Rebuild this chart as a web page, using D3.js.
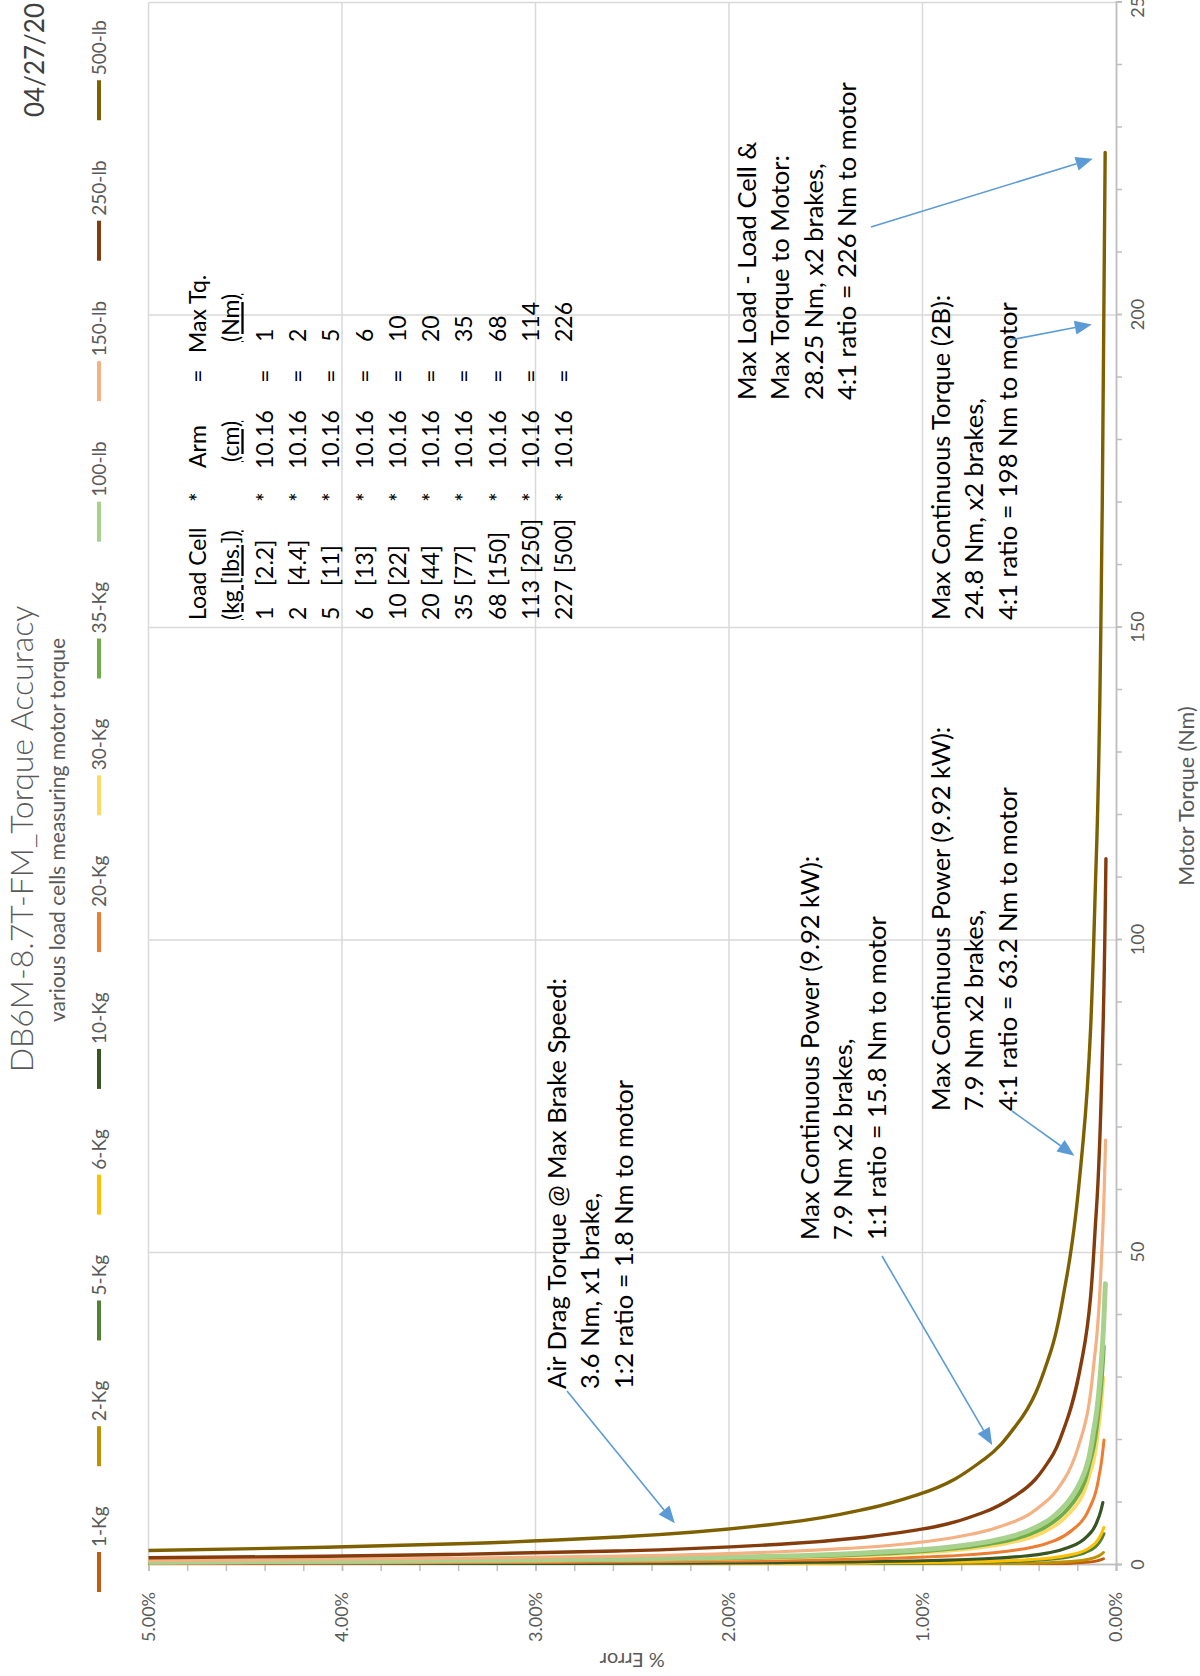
<!DOCTYPE html>
<html>
<head>
<meta charset="utf-8">
<script src="https://cdn.jsdelivr.net/npm/d3@7"></script>
<style>
  body { margin: 0; background: #fff; }
  svg { display: block; }
  text { font-family: Lato, "Open Sans", "DejaVu Sans", sans-serif; }
</style>
</head>
<body>
<svg id="chart" width="1200" height="1676"></svg>
<script>
// ---- series: load cell name, colour, torque points (Nm) and % error at each point ----
const lineNames  = ["1-Kg", "2-Kg", "5-Kg", "6-Kg", "10-Kg", "20-Kg", "30-Kg", "35-Kg", "100-lb", "150-lb", "250-lb", "500-lb"];
const lineColors = ["#C55A11", "#BF9000", "#548235", "#FFC000", "#375623", "#ED7D31", "#FFD966", "#70AD47", "#A9D18E", "#F4B183", "#843C0C", "#7F6000"];
const lineWidths = [3, 3, 3, 3, 3.2, 3, 3.5, 4, 5, 3.2, 3.4, 3.4];

const torque1Kg   = [0.01, 0.0125, 0.015, 0.02, 0.03, 0.04, 0.05, 0.075, 0.1, 0.15, 0.2, 0.3, 0.5, 0.75, 1];
const error1Kg    = [6.5, 5.2, 4.33, 3.25, 2.17, 1.63, 1.3, 0.87, 0.65, 0.43, 0.33, 0.22, 0.13, 0.087, 0.065];
const torque2Kg   = [0.02, 0.025, 0.03, 0.04, 0.06, 0.08, 0.1, 0.15, 0.2, 0.3, 0.4, 0.6, 1, 1.5, 2];
const error2Kg    = [6.5, 5.2, 4.33, 3.25, 2.17, 1.63, 1.3, 0.87, 0.65, 0.43, 0.33, 0.22, 0.13, 0.087, 0.065];
const torque5Kg   = [0.05, 0.0625, 0.075, 0.1, 0.15, 0.2, 0.25, 0.375, 0.5, 0.75, 1, 1.5, 2.5, 3.75, 5];
const error5Kg    = [6.2, 4.96, 4.13, 3.1, 2.07, 1.55, 1.24, 0.83, 0.62, 0.41, 0.31, 0.21, 0.124, 0.083, 0.062];
const torque6Kg   = [0.06, 0.075, 0.09, 0.12, 0.18, 0.24, 0.3, 0.45, 0.6, 0.9, 1.2, 1.8, 3, 4.5, 6];
const error6Kg    = [6.3, 5.04, 4.2, 3.15, 2.1, 1.58, 1.26, 0.84, 0.63, 0.42, 0.32, 0.21, 0.126, 0.084, 0.063];
const torque10Kg  = [0.1, 0.125, 0.15, 0.2, 0.3, 0.4, 0.5, 0.75, 1, 1.5, 2, 3, 5, 7.5, 10];
const error10Kg   = [6.8, 5.44, 4.53, 3.4, 2.27, 1.7, 1.36, 0.91, 0.68, 0.45, 0.34, 0.23, 0.136, 0.091, 0.068];
const torque20Kg  = [0.2, 0.25, 0.3, 0.4, 0.6, 0.8, 1, 1.5, 2, 3, 4, 6, 10, 15, 20];
const error20Kg   = [6.2, 4.96, 4.13, 3.1, 2.07, 1.55, 1.24, 0.83, 0.62, 0.41, 0.31, 0.21, 0.124, 0.083, 0.062];
const torque30Kg  = [0.3, 0.375, 0.45, 0.6, 0.9, 1.2, 1.5, 2.25, 3, 4.5, 6, 9, 15, 22.5, 30];
const error30Kg   = [6.5, 5.2, 4.33, 3.25, 2.17, 1.63, 1.3, 0.87, 0.65, 0.43, 0.33, 0.22, 0.13, 0.087, 0.065];
const torque35Kg  = [0.35, 0.44, 0.53, 0.7, 1.05, 1.4, 1.75, 2.63, 3.5, 5.25, 7, 10.5, 17.5, 26.25, 35];
const error35Kg   = [6.3, 5.04, 4.2, 3.15, 2.1, 1.58, 1.26, 0.84, 0.63, 0.42, 0.32, 0.21, 0.126, 0.084, 0.063];
const torque100lb = [0.45, 0.56, 0.68, 0.9, 1.35, 1.8, 2.25, 3.38, 4.5, 6.75, 9, 13.5, 22.5, 33.75, 45];
const error100lb  = [5.5, 4.4, 3.67, 2.75, 1.83, 1.38, 1.1, 0.73, 0.55, 0.37, 0.28, 0.18, 0.11, 0.073, 0.055];
const torque150lb = [0.68, 0.85, 1.02, 1.36, 2.04, 2.72, 3.4, 5.1, 6.8, 10.2, 13.6, 20.4, 34, 51, 68];
const error150lb  = [5.4, 4.32, 3.6, 2.7, 1.8, 1.35, 1.08, 0.72, 0.54, 0.36, 0.27, 0.18, 0.108, 0.072, 0.054];
const torque250lb = [1.13, 1.41, 1.7, 2.26, 3.39, 4.52, 5.65, 8.48, 11.3, 16.95, 22.6, 33.9, 56.5, 84.75, 113];
const error250lb  = [5.1, 4.08, 3.4, 2.55, 1.7, 1.28, 1.02, 0.68, 0.51, 0.34, 0.26, 0.17, 0.102, 0.068, 0.052];
const torque500lb = [2.26, 2.83, 3.39, 4.52, 6.78, 9.04, 11.3, 16.95, 22.6, 33.9, 45.2, 67.8, 113, 169.5, 226];
const error500lb  = [5.1, 4.08, 3.4, 2.55, 1.7, 1.28, 1.02, 0.68, 0.51, 0.34, 0.26, 0.17, 0.102, 0.071, 0.056];

const torqueSeries = [torque1Kg, torque2Kg, torque5Kg, torque6Kg, torque10Kg, torque20Kg, torque30Kg, torque35Kg, torque100lb, torque150lb, torque250lb, torque500lb];
const errorSeries  = [error1Kg, error2Kg, error5Kg, error6Kg, error10Kg, error20Kg, error30Kg, error35Kg, error100lb, error150lb, error250lb, error500lb];

// ---- axes ----
const torqueLabels = [0, 50, 100, 150, 200, 250];
const torqueMinor  = [0, 10, 20, 30, 40, 50, 60, 70, 80, 90, 100, 110, 120, 130, 140, 150, 160, 170, 180, 190, 200, 210, 220, 230, 240, 250];
const errorLabels  = [0, 1, 2, 3, 4, 5];
const errorMinor   = [0, 0.2, 0.4, 0.6, 0.8, 1, 1.2, 1.4, 1.6, 1.8, 2, 2.2, 2.4, 2.6, 2.8, 3, 3.2, 3.4, 3.6, 3.8, 4, 4.2, 4.4, 4.6, 4.8, 5];

// ---- text ----
const chartTitle    = "DB6M-8.7T-FM_Torque Accuracy";
const chartSubtitle = "various load cells measuring motor torque";
const chartDate     = "04/27/20";
const xTitle = "Motor Torque (Nm)";
const yTitle = "% Error";

const tableHeadA = ["Load Cell", "*", "Arm", "=", "Max Tq."];
const tableHeadB = ["(kg [lbs.])", "(cm)", "(Nm)"];
const tableKg    = ["1", "2", "5", "6", "10", "20", "35", "68", "113", "227"];
const tableLbs   = ["[2.2]", "[4.4]", "[11]", "[13]", "[22]", "[44]", "[77]", "[150]", "[250]", "[500]"];
const tableArm   = ["10.16", "10.16", "10.16", "10.16", "10.16", "10.16", "10.16", "10.16", "10.16", "10.16"];
const tableMaxTq = ["1", "2", "5", "6", "10", "20", "35", "68", "114", "226"];

const noteMaxLoad  = ["Max Load - Load Cell &", "Max Torque to Motor:", "28.25 Nm, x2 brakes,", "4:1 ratio = 226 Nm to motor"];
const noteTorque2B = ["Max Continuous Torque (2B):", "24.8 Nm, x2 brakes,", "4:1 ratio = 198 Nm to motor"];
const notePower4to1 = ["Max Continuous Power (9.92 kW):", "7.9 Nm x2 brakes,", "4:1 ratio = 63.2 Nm to motor"];
const notePower1to1 = ["Max Continuous Power (9.92 kW):", "7.9 Nm x2 brakes,", "1:1 ratio = 15.8 Nm to motor"];
const noteAirDrag  = ["Air Drag Torque @ Max Brake Speed:", "3.6 Nm, x1 brake,", "1:2 ratio = 1.8 Nm to motor"];
// point each arrow lands on: [torque Nm, % error]
const arrowTargets = [[225, 0.12], [198.5, 0.125], [65.5, 0.215], [19.2, 0.64], [6.7, 2.28]];

// ---- drawing ----
const W = 1676, H = 1200;           // landscape sheet, turned onto the portrait page
const GREY = "#595959";
const svg = d3.select("#chart");
const sheet = svg.append("g").attr("transform", `translate(0,${W}) rotate(-90)`);

const x = d3.scaleLinear().domain([0, 250]).range([111, 1673.5]);
const y = d3.scaleLinear().domain([0, 5]).range([1116, 148.5]);

// gridlines
sheet.append("g").selectAll("line").data(errorLabels.slice(1)).join("line")
  .attr("x1", x(0)).attr("x2", x(250))
  .attr("y1", d => y(d)).attr("y2", d => y(d))
  .attr("stroke", "#D9D9D9").attr("stroke-width", 1.5);
sheet.append("g").selectAll("line").data(torqueLabels.slice(1)).join("line")
  .attr("x1", d => x(d)).attr("x2", d => x(d))
  .attr("y1", y(0)).attr("y2", y(5))
  .attr("stroke", "#D9D9D9").attr("stroke-width", 1.5);

function styleAxis(g) {
  g.selectAll(".domain").attr("stroke", "#BFBFBF").attr("stroke-width", 1.5);
  g.selectAll(".tick line").attr("stroke", "#BFBFBF").attr("stroke-width", 1.5);
  g.selectAll(".tick text").attr("fill", GREY).style("font-size", "18px")
    .style("font-family", 'Lato, "Open Sans", sans-serif');
}

// torque axis (minor ticks, then labelled)
sheet.append("g").attr("transform", `translate(0,${y(0)})`)
  .call(d3.axisBottom(x).tickValues(torqueMinor).tickSize(6).tickFormat(""))
  .call(styleAxis);
sheet.append("g").attr("transform", `translate(0,${y(0)})`)
  .call(d3.axisBottom(x).tickValues(torqueLabels).tickSize(6).tickPadding(9).tickFormat(d3.format("d")))
  .call(styleAxis);

// error axis
sheet.append("g").attr("transform", `translate(${x(0)},0)`)
  .call(d3.axisLeft(y).tickValues(errorMinor).tickSize(6).tickFormat(""))
  .call(styleAxis);
sheet.append("g").attr("transform", `translate(${x(0)},0)`)
  .call(d3.axisLeft(y).tickValues(errorLabels).tickSize(6).tickPadding(21).tickFormat(d => d.toFixed(2) + "%"))
  .call(styleAxis);

// axis titles
sheet.append("text").attr("x", 880).attr("y", 1186).attr("dy", "0.35em")
  .attr("text-anchor", "middle").attr("fill", GREY).style("font-size", "21.5px").text(xTitle);
sheet.append("text").attr("transform", `translate(16,${(y(0) + y(5)) / 2}) rotate(-90)`).attr("dy", "0.35em")
  .attr("text-anchor", "middle").attr("fill", GREY).style("font-size", "20px").text(yTitle);

// curves
sheet.append("clipPath").attr("id", "plotClip").append("rect")
  .attr("x", x(0)).attr("y", y(5)).attr("width", x(250) - x(0)).attr("height", y(0) - y(5) + 4);
const line = d3.line().x(d => x(d[0])).y(d => y(d[1])).curve(d3.curveMonotoneX);
const curves = sheet.append("g").attr("clip-path", "url(#plotClip)");
lineNames.forEach((name, i) => {
  const pts = torqueSeries[i].map((t, k) => [t, errorSeries[i][k]]);
  curves.append("path").datum(pts)
    .attr("d", line).attr("fill", "none")
    .attr("stroke", lineColors[i]).attr("stroke-width", lineWidths[i])
    .attr("stroke-linejoin", "round").attr("stroke-linecap", "round");
});

// titles
sheet.append("text").attr("x", 837).attr("y", 33).attr("text-anchor", "middle")
  .attr("fill", GREY).style("font-size", "32px").style("font-weight", 300).text(chartTitle);
sheet.append("text").attr("x", 846).attr("y", 65).attr("text-anchor", "middle")
  .attr("fill", GREY).style("font-size", "21px").text(chartSubtitle);
sheet.append("text").attr("x", 1673).attr("y", 44).attr("text-anchor", "end")
  .attr("fill", "#404040").style("font-size", "26px").text(chartDate);

// legend, spread between the two ends of the row
const LEG_LINE = 40, LEG_GAP = 5, LEG_Y = 99, LEG_START = 84, LEG_END = 1656;
const legendItems = sheet.append("g").selectAll("g").data(lineNames).join("g");
legendItems.append("line").attr("x1", 0).attr("x2", LEG_LINE).attr("y1", LEG_Y).attr("y2", LEG_Y)
  .attr("stroke", (d, i) => lineColors[i]).attr("stroke-width", 4);
legendItems.append("text").attr("x", LEG_LINE + LEG_GAP).attr("y", LEG_Y).attr("dy", "0.35em")
  .attr("fill", GREY).style("font-size", "19px").text(d => d);
const itemWidths = legendItems.nodes().map(n => LEG_LINE + LEG_GAP + n.querySelector("text").getComputedTextLength());
const spacing = (LEG_END - LEG_START - d3.sum(itemWidths)) / (lineNames.length - 1);
let cursor = LEG_START;
legendItems.attr("transform", (d, i) => { const t = `translate(${cursor},0)`; cursor += itemWidths[i] + spacing; return t; });

// load-cell table
const TBL_X = 1056, TBL_Y0 = 198, TBL_STEP = 33.3, TBL_FONT = "23px";
const table = sheet.append("g").attr("fill", "#000").style("font-size", TBL_FONT);
function cell(txt, xx, yy, anchor, underline) {
  const t = table.append("text").attr("x", xx).attr("y", yy).attr("dy", "0.35em")
    .attr("text-anchor", anchor || "start").text(txt);
  if (underline) t.attr("text-decoration", "underline");
  return t;
}
cell(tableHeadA[0], TBL_X, TBL_Y0);
cell(tableHeadA[1], 1179, TBL_Y0, "middle");
cell(tableHeadA[2], 1208, TBL_Y0);
cell(tableHeadA[3], 1300, TBL_Y0, "middle");
cell(tableHeadA[4], 1323, TBL_Y0);
cell(tableHeadB[0], TBL_X, TBL_Y0 + TBL_STEP, "start", true);
cell(tableHeadB[1], 1214, TBL_Y0 + TBL_STEP, "start", true);
cell(tableHeadB[2], 1334, TBL_Y0 + TBL_STEP, "start", true);
tableKg.forEach((kg, i) => {
  const yy = TBL_Y0 + TBL_STEP * (i + 2);
  const kgText = cell(kg, TBL_X, yy);
  const lbsX = Math.max(1090, TBL_X + kgText.node().getComputedTextLength() + 7);
  cell(tableLbs[i], lbsX, yy);
  cell("*", 1179, yy, "middle");
  cell(tableArm[i], 1207, yy);
  cell("=", 1300, yy, "middle");
  cell(tableMaxTq[i], 1334, yy);
});

// notes
const NOTE_FONT = "25.5px", NOTE_STEP = 33.3;
function note(lines, xx, y0) {
  const g = sheet.append("g").attr("fill", "#000").style("font-size", NOTE_FONT);
  lines.forEach((s, i) => g.append("text").attr("x", xx).attr("y", y0 + i * NOTE_STEP).attr("dy", "0.35em").text(s));
}
note(noteMaxLoad, 1276, 747);
note(noteTorque2B, 1056, 941);
note(notePower4to1, 565, 941);
note(notePower1to1, 436, 810);
note(noteAirDrag, 287, 557);

// arrows from the notes to the curve
const arrowStarts = [[1449, 871], [1336, 1010], [565, 1012], [420, 882], [285, 567]];
const ARROW = "#5B9BD5";
const arrows = sheet.append("g");
arrowStarts.forEach((s, i) => {
  const tx = x(arrowTargets[i][0]), ty = y(arrowTargets[i][1]);
  const ang = Math.atan2(ty - s[1], tx - s[0]);
  const headLen = 17, headHalf = 7;
  const bx = tx - headLen * Math.cos(ang), by = ty - headLen * Math.sin(ang);
  arrows.append("line").attr("x1", s[0]).attr("y1", s[1]).attr("x2", bx).attr("y2", by)
    .attr("stroke", ARROW).attr("stroke-width", 1.6);
  const px = -Math.sin(ang) * headHalf, py = Math.cos(ang) * headHalf;
  arrows.append("path")
    .attr("d", `M${tx},${ty}L${bx + px},${by + py}L${bx - px},${by - py}Z`)
    .attr("fill", ARROW);
});
</script>
</body>
</html>
